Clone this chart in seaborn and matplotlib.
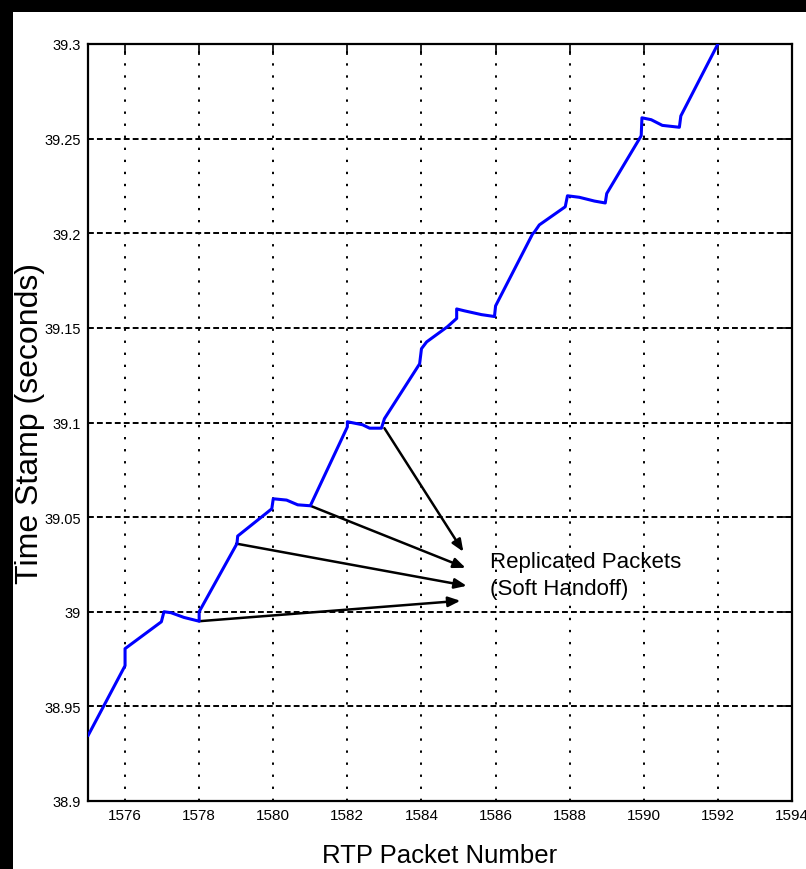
import matplotlib
matplotlib.use("Agg")
import matplotlib.pyplot as plt
from matplotlib.patches import Rectangle
import numpy as np
import pandas as pd
import seaborn as sns

# RTP packet arrival trace (packet number vs. time stamp)
packet = [1575.0, 1576.0, 1576.0, 1576.98, 1577.05, 1577.24, 1577.59, 1578.0,
          1578.0, 1579.02, 1579.04, 1579.96, 1580.0, 1580.36, 1580.66, 1581.0,
          1582.0, 1582.0, 1582.41, 1582.6, 1582.92, 1583.0, 1583.95, 1584.0,
          1584.14, 1584.7, 1584.95, 1584.95, 1585.16, 1585.62, 1585.97, 1586.0,
          1587.0, 1587.05, 1587.18, 1587.88, 1587.94, 1588.26, 1588.67, 1588.96,
          1589.0, 1589.93, 1589.95, 1590.2, 1590.5, 1590.96, 1591.0, 1592.0]
timestamp = [38.9345, 38.9715, 38.9805, 38.9947, 39.0, 38.9995, 38.997, 38.995,
             39.0, 39.036, 39.040, 39.0544, 39.0597, 39.059, 39.0565, 39.056,
             39.0977, 39.1004, 39.0988, 39.097, 39.097, 39.102, 39.131, 39.139,
             39.1426, 39.1506, 39.155, 39.160, 39.159, 39.157, 39.156, 39.1616,
             39.1997, 39.2007, 39.2044, 39.214, 39.2198, 39.219, 39.217, 39.216,
             39.221, 39.2515, 39.261, 39.26, 39.257, 39.256, 39.262, 39.3]

# replicated packets and where their arrows point
dup_packet = [1583.0, 1581.0, 1579.0, 1578.0]
dup_time = [39.097, 39.056, 39.036, 38.995]
tip_packet = [1585.13, 1585.19, 1585.22, 1585.05]
tip_time = [39.0317, 39.0232, 39.0137, 39.0058]
note_text = "Replicated Packets\n(Soft Handoff)"
note_packet = 1585.84
note_time = 39.0195

xticks = [1576, 1578, 1580, 1582, 1584, 1586, 1588, 1590, 1592, 1594]
xtick_labels = ["1576", "1578", "1580", "1582", "1584", "1586", "1588",
                "1590", "1592", "1594"]
yticks = [38.9, 38.95, 39.0, 39.05, 39.1, 39.15, 39.2, 39.25, 39.3]
ytick_labels = ["38.9", "38.95", "39", "39.05", "39.1", "39.15", "39.2",
                "39.25", "39.3"]

sns.set_theme(style="white")
plt.rcParams["font.family"] = ["Liberation Sans", "DejaVu Sans"]

W, H = 806, 870
fig = plt.figure(figsize=(W / 100, H / 100), dpi=100, facecolor="black")
fig.patches.append(Rectangle((13 / W, 0), 1, (H - 13) / H,
                             transform=fig.transFigure, facecolor="white",
                             edgecolor="none", zorder=-10))

ax = fig.add_axes([88 / W, 1 - 802 / H, (792 - 88) / W, (802 - 45) / H])
ax.set_facecolor("white")

df = pd.DataFrame({"packet": packet, "timestamp": timestamp})
sns.lineplot(data=df, x="packet", y="timestamp", estimator=None, sort=False,
             color="#0000ff", lw=2.2, ax=ax, zorder=5)

for x0, y0, x1, y1 in zip(dup_packet, dup_time, tip_packet, tip_time):
    ax.annotate("", xy=(x1, y1), xytext=(x0, y0),
                arrowprops=dict(arrowstyle="-|>,head_length=0.6,head_width=0.25",
                                color="black", lw=1.8, mutation_scale=12,
                                shrinkA=0, shrinkB=0), zorder=4)

ax.text(note_packet, note_time, note_text, ha="left", va="center",
        fontsize=16, color="black", linespacing=1.38)

ax.set_xlim(1575, 1594)
ax.set_ylim(38.9, 39.3)
ax.set_xticks(xticks)
ax.set_xticklabels(xtick_labels, fontsize=11)
ax.set_yticks(yticks)
ax.set_yticklabels(ytick_labels, fontsize=10.5)

ax.xaxis.grid(True, linestyle=(0, (1.2, 5.0)), color="black", lw=1.4)
ax.yaxis.grid(True, linestyle=(0, (3.0, 1.6)), color="black", lw=1.4)
ax.set_axisbelow(True)

ax.tick_params(direction="in", length=8, width=1.2, top=True, right=True,
               colors="black", pad=5)
for s in ax.spines.values():
    s.set_color("black")
    s.set_linewidth(1.6)

ax.set_xlabel("RTP Packet Number", fontsize=18.5, color="black", va="center")
ax.xaxis.set_label_coords(0.5, -0.071)
ax.set_ylabel("Time Stamp (seconds)", fontsize=23, color="black", va="center")
ax.yaxis.set_label_coords(-0.083, 0.5)

fig.savefig("out.png", dpi=100)
